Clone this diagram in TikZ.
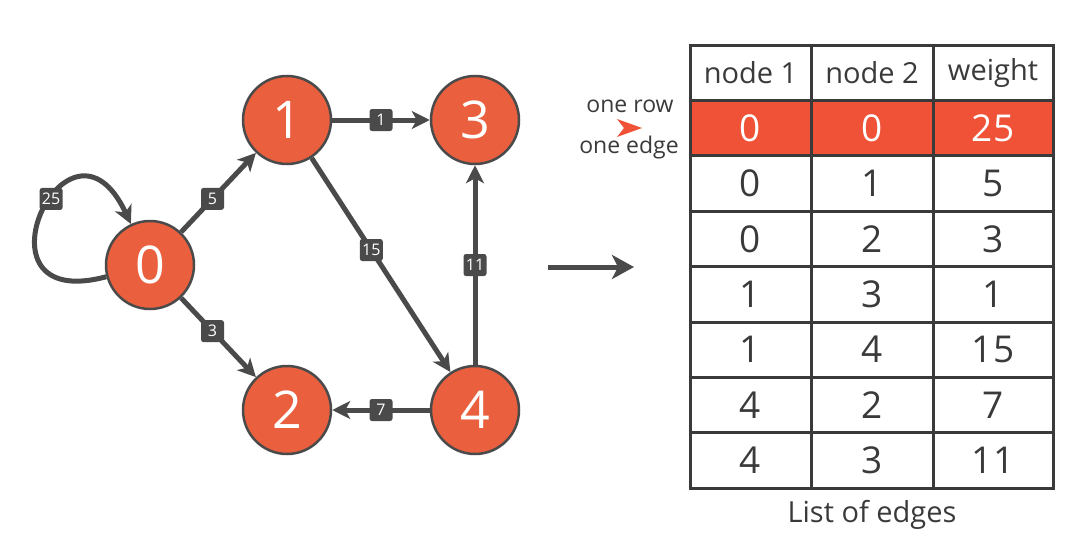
\documentclass[tikz,border=0pt]{standalone}
\usepackage{fontspec}
\setmainfont{Open Sans}
\usetikzlibrary{arrows.meta, positioning}
\definecolor{nodeorange}{HTML}{EA603E}
\definecolor{rowred}{HTML}{EF5236}
\definecolor{edgegray}{HTML}{4A4A4A}
\definecolor{textgray}{HTML}{3A3A3A}

\begin{document}
\begin{tikzpicture}[x=1pt, y=1pt,
    vertex/.style={circle, draw=edgegray, line width=2.5pt, fill=nodeorange, minimum size=88pt, inner sep=0pt, text=white, font=\fontsize{52}{52}\selectfont},
    edge/.style={draw=edgegray, line width=5pt, -{Stealth[length=18pt, width=18pt, inset=5pt]}},
    weight/.style={fill=edgegray, rounded corners=2.5pt, text=white, font=\fontsize{16}{16}\selectfont, minimum width=23pt, minimum height=22pt, inner sep=1.5pt},
    cell/.style={text=textgray, font=\fontsize{37}{37}\selectfont},
    head/.style={text=textgray, font=\fontsize{29}{29}\selectfont},
    note/.style={text=textgray, font=\fontsize{23}{23}\selectfont}]
        \useasboundingbox (0,0) rectangle (1083,-546);

        % Graph
        \node[vertex] (n0) at (150,-265) {0};
        \node[vertex] (n1) at (287,-120) {1};
        \node[vertex] (n3) at (475,-120) {3};
        \node[vertex] (n2) at (287,-410) {2};
        \node[vertex] (n4) at (475,-410) {4};

        \draw[edge] (n0) to[out=195, in=115, looseness=6.5] node[weight, pos=0.58] {25} (n0);
        \draw[edge] (n0) -- node[weight, pos=0.42] {5} (n1);
        \draw[edge] (n0) -- node[weight, pos=0.42] {3} (n2);
        \draw[edge] (n1) -- node[weight, pos=0.5] {1} (n3);
        \draw[edge] (n1) -- node[weight, pos=0.43] {15} (n4);
        \draw[edge] (n4) -- node[weight, pos=0.5] {11} (n3);
        \draw[edge] (n4) -- node[weight, pos=0.5] {7} (n2);

        % Big arrow
        \coordinate (from) at (548,-267);
        \coordinate (to) at (634,-267);
        \draw[edge, -{Stealth[length=22pt, width=24pt, inset=6pt]}] (from) -- (to);

        % Table
        \fill[rowred] (690,-100.4) rectangle (1053,-155.8);
        \foreach \c/\t [count=\i] in {750.5/node 1, 872/node 2, 993/weight}
            \node[head] (head-\i) at (\c,-72.7) {\t};
        \node[cell, text=white] (cell-1-1) at (750.5,-128.1) {0};
        \node[cell, text=white] (cell-1-2) at (872,-128.1) {0};
        \node[cell, text=white] (cell-1-3) at (993,-128.1) {25};
        \foreach \a/\b/\w [count=\r from 2] in {0/1/5, 0/2/3, 1/3/1, 1/4/15, 4/2/7, 4/3/11} {
            \node[cell] (cell-\r-1) at (750.5,-72.7-55.4*\r) {\a};
            \node[cell] (cell-\r-2) at (872,-72.7-55.4*\r) {\b};
            \node[cell] (cell-\r-3) at (993,-72.7-55.4*\r) {\w};
        }
        \foreach \k in {0,...,8}
            \draw[textgray, line width=3pt] (688.5,-45-55.4*\k) -- (1054.5,-45-55.4*\k);
        \foreach \x in {690, 811, 933, 1053}
            \draw[textgray, line width=3pt] (\x,-45) -- (\x,-488.2);
        \node[note, font=\fontsize{29}{29}\selectfont] (caption) at (872,-515) {List of edges};

        % One row = one edge
        \node[note] (row) at (630,-106) {one row};
        \node[note] (edgetxt) at (629,-148) {one edge};
        \fill[rowred] (617,-119) -- (642,-128) -- (617,-137) -- (624,-128) -- cycle;

    \end{tikzpicture}
\end{document}
